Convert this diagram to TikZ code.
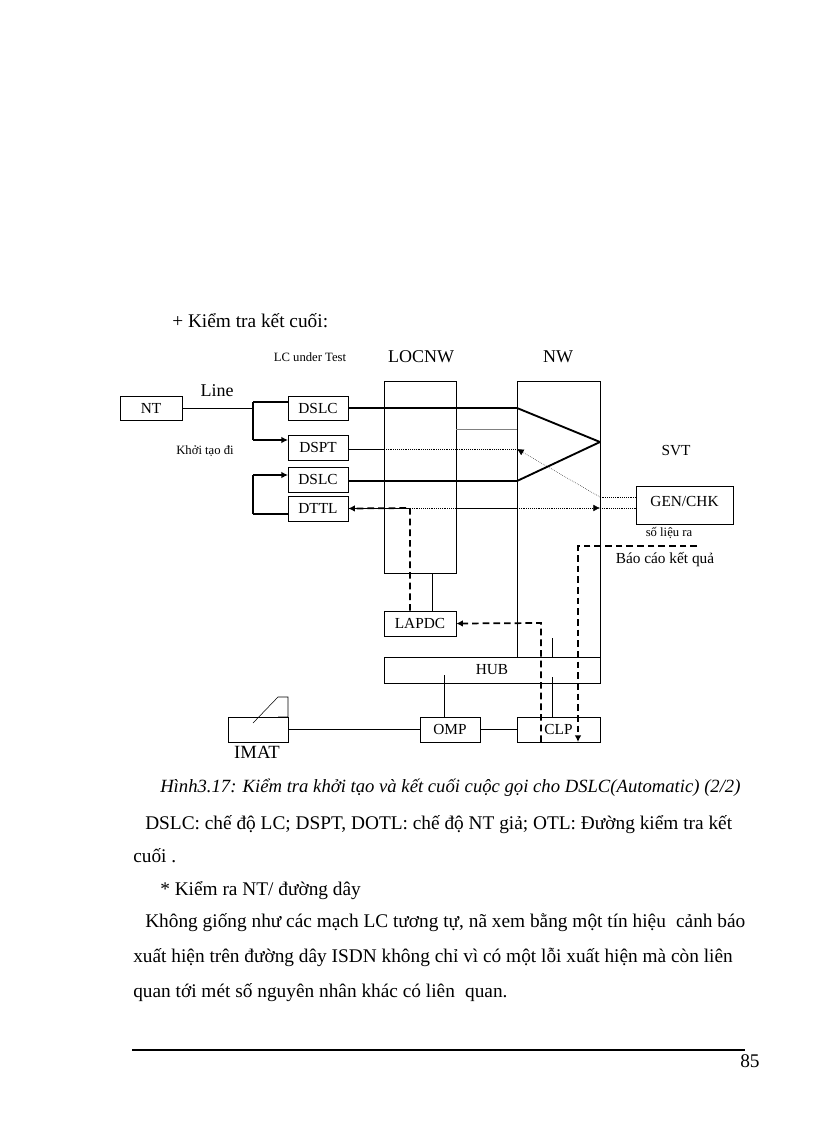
\documentclass[tikz,border=0pt]{standalone}
\usepackage{fontspec}
\setmainfont{Liberation Serif}
\usetikzlibrary{arrows.meta}
\begin{document}
\begin{tikzpicture}[x=0.75pt,y=-0.75pt,
  box/.style={draw,thin,minimum height=0pt,inner sep=0pt},
  thick2/.style={line width=1.4pt},
  dot/.style={densely dotted,thin},
  dsh/.style={dashed,line width=1.3pt,dash pattern=on 5pt off 3pt},
  arr/.style={-{Latex[length=5pt,width=5pt]}},
  lbl/.style={font=\fontsize{11.5}{12}\selectfont,inner sep=0pt},
  lbls/.style={font=\fontsize{9.5}{10}\selectfont,inner sep=0pt},
  body/.style={font=\fontsize{14.5}{16}\selectfont,anchor=base west,inner sep=0pt}]
\useasboundingbox (0,0) rectangle (816,1123);
% boxes
\node[box,minimum width=46.5pt,minimum height=18pt,lbl] (NT) at (151,408) {NT};
\node[box,minimum width=45pt,minimum height=18pt,lbl] (D1) at (318,408) {DSLC};
\node[box,minimum width=45pt,minimum height=18.75pt,lbl] (DP) at (318,447.5) {DSPT};
\node[box,minimum width=45pt,minimum height=18.75pt,lbl] (D2) at (318,479.5) {DSLC};
\node[box,minimum width=45pt,minimum height=18.75pt,lbl] (DT) at (318,508.5) {DTTL};
\node[box,minimum width=54pt,minimum height=144pt] (LOC) at (420,477) {};
\node[box,minimum width=62.25pt,minimum height=207pt] (NW) at (558.5,519) {};
\node[box,minimum width=72.75pt,minimum height=28.5pt,lbl] (GEN) at (684.5,505) {\raisebox{6pt}{GEN/CHK}};
\node[box,minimum width=54pt,minimum height=18.75pt,lbl] (LAP) at (420,623.5) {LAPDC};
\node[box,minimum width=162pt,minimum height=19.5pt,lbl] (HUB) at (492,670) {HUB};
\node[box,minimum width=45pt,minimum height=18.75pt,lbl] (OMP) at (450,729.5) {OMP};
\node[box,minimum width=62.25pt,minimum height=18.75pt,lbl] (CLP) at (558.5,729.5) {CLP};
\node[box,minimum width=45pt,minimum height=18.75pt] (IM) at (258,729.5) {};
% labels
\node[body] (t1) at (172,327) {+ Kiểm tra kết cuối:};
\node[lbls] (lct) at (310,357) {LC under Test};
\node[font=\fontsize{13.5}{14}\selectfont,inner sep=0pt] (ll) at (421,357) {LOCNW};
\node[font=\fontsize{13.5}{14}\selectfont,inner sep=0pt] (nl) at (558,357) {NW};
\node[font=\fontsize{13.5}{14}\selectfont,inner sep=0pt] (li) at (217,391) {Line};
\node[lbls] (kt) at (205,451) {Khởi tạo đi};
\node[lbl] (svt) at (676,451) {SVT};
\node[lbls] (sl) at (669,533) {số liệu ra};
\node[lbl] (bc) at (665,560) {Báo cáo kết quả};
\node[font=\fontsize{14}{14}\selectfont,inner sep=0pt] (imt) at (257,752) {IMAT};
% NT line
\coordinate (j1) at (253,402);
\draw[thin] (NT.east) -- (253,408);
\draw[thick2] (j1) -- (288,402);
\draw[thick2] (j1) -- (253,440);
\draw[thick2,arr] (253,440) -- (288,440);
\draw[thick2] (253,514) -- (253,475);
\draw[thick2,arr] (253,475) -- (288,475);
\draw[thick2] (253,514) -- (288,514);
% channel lines
\coordinate (cross) at (600,442);
\draw[thick2] (D1.east) -- (517,408) -- (cross);
\draw[thick2] (348,481) -- (517,481) -- (cross);
\draw[thin] (348,449) -- (384,449);
\draw[dot] (384,449) -- (517,449);
\draw[thin,gray] (456,429) -- (517,429);
\draw[thin] (348,508) -- (410,508);
\draw[dot] (410,508) -- (456,508);
\draw[thin] (456,508) -- (517,508);
\draw[dot,arr] (517,508) -- (600,508);
\draw[dot] (600,508) -- (GEN.west|-0,508);
\draw[dot] (GEN.west|-0,497) -- (600,497);
\draw[dot,arr] (600,497) -- (517,449);
% dashed
\draw[dsh,arr] (LAP.north-|410,0) -- (410,508) -- (DT.east);
\draw[dsh,arr] (541,742) -- (541,623) -- (LAP.east);
\draw[dsh,arr] (697,546) -- (578,546) -- (578,742);
% thin links
\draw[thin] (432,611) -- (432,573);
\draw[thin] (552,638) -- (552,657);
\draw[thin] (552,677) -- (552,717);
\draw[thin] (444,675) -- (444,717);
\draw[thin] (IM.east) -- (OMP.west);
\draw[thin] (OMP.east) -- (CLP.west);
\draw[thin] (278,717) -- (288,717) -- (288,697) -- (278,697) -- (253,723);
% text
\node[font=\fontsize{14}{16}\selectfont\itshape,anchor=base west,inner sep=0pt] (cap) at (160,792) {Hình3.17: Kiểm tra khởi tạo và kết cuối cuộc gọi cho DSLC(Automatic) (2/2)};
\node[body] (p1) at (145,829) {DSLC: chế độ LC; DSPT, DOTL: chế độ NT giả; OTL: Đường kiểm tra kết};
\node[body] (p1b) at (133,862) {cuối .};
\node[body] (p2) at (160,895) {* Kiểm ra NT/ đường dây};
\node[body] (p3) at (145,927) {Không giống như các mạch LC tương tự, nã xem bằng một tín hiệu\; cảnh báo};
\node[body] (p4) at (133,962) {xuất hiện trên đường dây ISDN không chỉ vì có một lỗi xuất hiện mà còn liên};
\node[body] (p5) at (133,997) {quan tới mét số nguyên nhân khác có liên\; quan.};
\draw[line width=1.2pt] (132,1050) -- (745,1050);
\node[body] (pg) at (740,1067) {85};
\end{tikzpicture}
\end{document}
